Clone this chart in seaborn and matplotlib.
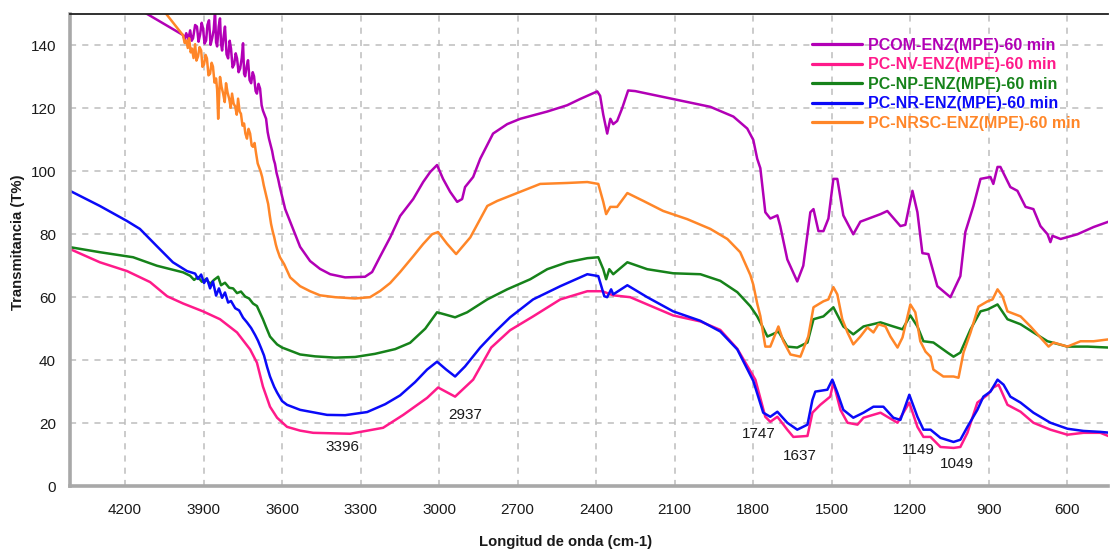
import matplotlib
matplotlib.use("Agg")
import matplotlib.pyplot as plt
from matplotlib.lines import Line2D
from matplotlib.ticker import MultipleLocator
import pandas as pd
import seaborn as sns

# ---- FTIR spectra (wavenumber in cm-1, transmittance in %) ----
series_names = [
    "PCOM-ENZ(MPE)-60 min",
    "PC-NV-ENZ(MPE)-60 min",
    "PC-NP-ENZ(MPE)-60 min",
    "PC-NR-ENZ(MPE)-60 min",
    "PC-NRSC-ENZ(MPE)-60 min",
]
series_colors = ["#B200B6", "#FF1A8A", "#16821A", "#0A0AF8", "#FF8628"]

pcom_wn = [4410, 3978, 3972, 3966, 3958, 3951, 3945, 3940, 3932, 3925, 3919, 3913, 3907,
           3902, 3896, 3890, 3885, 3879, 3873, 3867, 3861, 3856, 3852, 3848, 3842, 3837,
           3833, 3829, 3823, 3818, 3812, 3806, 3800, 3795, 3789, 3783, 3777, 3772, 3766,
           3760, 3754, 3749, 3745, 3741, 3735, 3730, 3724, 3718, 3712, 3707, 3701, 3696,
           3690, 3684, 3678, 3673, 3667, 3661, 3655, 3650, 3644, 3638, 3632, 3627, 3621,
           3615, 3609, 3604, 3588, 3569, 3531, 3493,
           3455, 3416, 3359, 3283, 3256, 3225, 3187, 3149, 3099, 3061, 3034, 3008, 2985,
           2958, 2931, 2912, 2901, 2870, 2843, 2794, 2740, 2690, 2587, 2511, 2461, 2396,
           2385, 2373, 2358, 2346, 2335, 2320, 2301, 2278, 2251, 2205, 2106, 1964, 1876,
           1823, 1800, 1785, 1773, 1754, 1735, 1708, 1697, 1670, 1632, 1609, 1582, 1570,
           1551, 1532, 1513, 1494, 1479, 1456, 1418, 1391, 1314, 1288, 1238, 1219, 1192,
           1173, 1154, 1131, 1097, 1047, 1009, 990, 959, 932, 894, 883, 867, 856, 818,
           791, 760, 730, 703, 676, 665, 657, 626, 562, 500, 443]
pcom_t = [164.4, 143.3, 141.8, 143.9, 142.0, 144.8, 141.5, 142.3, 146.5, 146.0, 141.2,
          143.5, 147.2, 145.5, 140.6, 141.6, 146.5, 148.0, 140.2, 142.3, 145.0, 151.0,
          141.0, 139.7, 146.0, 148.6, 140.5, 138.4, 143.0, 146.0, 137.2, 135.9, 141.5,
          139.0, 133.0, 134.0, 137.5, 135.9, 131.5, 132.7, 136.0, 140.7, 131.0, 130.2,
          133.5, 135.3, 129.0, 128.0, 131.5, 130.2, 125.5, 124.7, 127.8, 126.3, 121.0,
          119.3, 118.0, 116.7, 112.5, 110.4, 108.5, 106.5, 103.8, 102.4, 99.5, 97.6,
          95.2, 93.5, 88.0, 84.0, 76.0, 71.5,
          69.0, 67.3, 66.3, 66.5, 68.0, 73.0, 79.0, 85.8, 91.2, 96.6,
          99.8, 102.0, 97.6, 93.5, 90.3, 91.2, 95.0, 98.2, 104.0, 112.0, 115.0, 116.7,
          119.0, 121.0, 123.0, 125.4, 124.0, 118.0, 112.0, 116.7, 115.0, 116.0, 120.0,
          125.7, 125.5, 124.7, 123.0, 120.5, 117.4, 113.6, 110.0, 104.0, 101.0, 87.0,
          85.0, 86.0, 82.6, 72.0, 65.0, 70.0, 87.0, 88.0, 81.0, 81.0, 85.0, 97.6, 97.6,
          86.0, 80.0, 84.0, 86.4, 87.4, 82.6, 83.0, 93.8, 87.0, 74.0, 73.7, 63.5, 60.0,
          66.7, 80.7, 89.0, 97.6, 98.2, 96.0, 101.4, 101.4, 95.0, 93.8, 88.7, 88.0, 82.6,
          80.0, 77.5, 79.5, 78.5, 80.0, 82.3, 84.0]

nv_wn = [4410, 4296, 4192, 4104, 4039, 3978, 3902, 3837, 3772, 3722, 3696, 3673, 3646,
         3619, 3581, 3531, 3481, 3340, 3214, 3137, 3046, 3004, 2939, 2870, 2801, 2729,
         2641, 2537, 2434, 2377, 2335, 2270, 2205, 2106, 2002, 1926, 1861, 1792, 1754,
         1735, 1708, 1670, 1647, 1593, 1574, 1544, 1506, 1494, 1467, 1440, 1402, 1379,
         1314, 1288, 1249, 1204, 1173, 1150, 1123, 1085, 1035, 1009, 982, 944, 905, 883,
         863, 829, 779, 730, 665, 600, 539, 474, 435]
nv_t = [75.3, 71.1, 68.3, 64.8, 60.3, 58.0, 55.5, 53.0, 48.8, 43.4, 39.2, 31.6, 25.2,
        21.7, 18.8, 17.6, 16.9, 16.6, 18.5, 22.6, 28.0, 31.3, 28.4, 33.8, 44.0, 49.5,
        53.9, 59.3, 61.9, 61.9, 60.6, 60.0, 57.7, 54.2, 52.3, 49.6, 43.6, 33.8, 22.0,
        20.4, 22.0, 17.9, 15.6, 15.9, 23.3, 25.8, 28.4, 32.9, 24.2, 20.1, 19.5, 21.7,
        23.3, 22.0, 20.1, 26.5, 18.8, 15.6, 15.6, 12.4, 12.1, 12.4, 16.9, 26.5, 29.0,
        31.3, 32.2, 25.8, 23.6, 20.1, 17.9, 16.3, 16.9, 16.9, 15.6]

np_wn = [4410, 4296, 4169, 4078, 3978, 3951, 3936, 3921, 3906, 3890, 3875, 3860, 3844,
         3833, 3818, 3802, 3787, 3772, 3757, 3741, 3726, 3711, 3696, 3684, 3673, 3661,
         3646, 3630, 3619, 3600, 3581, 3531, 3474, 3397, 3321, 3245, 3168, 3111, 3053,
         3008, 2977, 2939, 2893, 2816, 2740, 2652, 2587, 2511, 2434, 2392, 2373, 2362,
         2350, 2335, 2281, 2205, 2106, 2002, 1926, 1861, 1811, 1785, 1765, 1746, 1727,
         1704, 1670, 1632, 1593, 1570, 1532, 1494, 1456, 1418, 1379, 1314, 1265, 1230,
         1200, 1173, 1150, 1112, 1058, 1035, 1009, 970, 932, 905, 867, 829, 779, 730,
         676, 600, 523, 443]
np_t = [75.9, 74.3, 72.7, 70.0, 67.9, 66.8, 65.5, 66.4, 64.9, 65.8, 64.2, 65.5, 66.5,
        63.8, 64.6, 63.0, 62.8, 61.3, 61.8, 60.2, 59.6, 58.0, 57.2, 55.0, 53.0, 50.5,
        47.5, 46.0, 45.0, 44.0, 43.4, 41.8, 41.2, 40.8, 41.0, 42.0, 43.5, 45.5, 50.0,
        55.2, 54.5, 53.6, 55.2, 59.3, 62.5, 65.7, 68.9, 71.1, 72.4, 72.7, 68.9, 65.7,
        68.9, 67.3, 71.1, 68.9, 67.6, 67.3, 65.2, 61.6, 57.1, 53.9, 50.7, 47.5, 48.2,
        49.1, 44.3, 44.0, 45.6, 53.0, 53.9, 56.8, 50.7, 48.2, 50.7, 52.0, 50.7, 49.8,
        54.2, 50.7, 46.0, 45.6, 42.4, 41.1, 42.4, 49.8, 55.5, 56.1, 57.7, 53.0, 51.4,
        48.8, 46.0, 44.3, 44.3, 44.0]

nr_wn = [4410, 4296, 4192, 4143, 4078, 4017, 3963, 3932, 3921, 3909, 3898, 3887, 3875,
         3864, 3852, 3841, 3829, 3818, 3806, 3795, 3779, 3764, 3749, 3734, 3718, 3703,
         3692, 3680, 3669, 3657, 3646, 3630, 3619, 3600, 3581, 3531, 3428, 3359, 3275,
         3206, 3149, 3092, 3046, 3008, 2973, 2939, 2901, 2843, 2786, 2729, 2641, 2537,
         2434, 2392, 2369, 2358, 2343, 2335, 2281, 2205, 2106, 2002, 1926, 1861, 1800,
         1762, 1735, 1708, 1670, 1632, 1593, 1574, 1563, 1517, 1498, 1479, 1456, 1418,
         1379, 1341, 1303, 1265, 1238, 1204, 1173, 1150, 1123, 1085, 1035, 1009, 982,
         944, 921, 894, 867, 844, 818, 779, 730, 665, 600, 539, 474, 435]
nr_t = [93.8, 89.0, 84.2, 81.7, 76.2, 71.1, 68.3, 67.5, 65.8, 67.2, 64.5, 66.0, 62.8,
        65.0, 60.5, 62.8, 59.8, 61.5, 58.3, 58.8, 56.5, 55.8, 53.5, 52.0, 50.2, 48.0,
        46.2, 43.8, 41.5, 37.8, 34.8, 31.5, 29.7, 27.0, 25.8, 24.2, 22.6, 22.5, 23.5,
        26.0, 28.8, 33.0, 37.0, 39.5, 37.0, 34.8, 38.0, 44.0, 49.0, 53.6, 59.3, 63.5,
        67.3, 66.7, 60.3, 60.0, 62.5, 60.9, 63.8, 60.0, 55.5, 52.5, 49.1, 43.4, 33.4,
        23.3, 22.0, 23.6, 20.1, 17.9, 19.5, 27.4, 30.0, 30.6, 33.8, 29.7, 24.2, 21.7,
        23.3, 25.2, 25.2, 21.7, 21.0, 29.0, 22.0, 17.9, 17.9, 15.3, 14.0, 14.7, 18.8,
        24.2, 28.4, 30.0, 33.8, 32.2, 28.4, 26.5, 23.3, 20.1, 18.2, 17.5, 17.2, 16.9]

nrsc_wn = [4410, 4047, 3978, 3972, 3966, 3960, 3955, 3949, 3944, 3938, 3932, 3927, 3921,
           3915, 3909, 3904, 3898, 3892, 3887, 3881, 3875, 3869, 3864, 3858, 3852, 3848,
           3844, 3840, 3837, 3831, 3825, 3819, 3814, 3808, 3802, 3796, 3791, 3785, 3779,
           3773, 3768, 3762, 3757, 3751, 3745, 3740, 3734, 3728, 3722, 3716, 3711, 3705,
           3699, 3693, 3688, 3682, 3676, 3670, 3665, 3659, 3653, 3647, 3642, 3636, 3630,
           3624, 3619, 3608, 3592, 3569, 3531,
           3493, 3455, 3397, 3321, 3264, 3225, 3187, 3149, 3099, 3061, 3027, 3004, 2970,
           2935, 2881, 2816, 2778, 2690, 2614, 2511, 2434, 2392, 2373, 2362, 2346, 2320,
           2281, 2220, 2144, 2052, 1964, 1899, 1850, 1811, 1800, 1785, 1773, 1754, 1735,
           1704, 1685, 1658, 1620, 1590, 1570, 1532, 1513, 1494, 1479, 1460, 1440, 1418,
           1391, 1364, 1341, 1322, 1295, 1276, 1249, 1230, 1200, 1181, 1162, 1142, 1123,
           1112, 1074, 1035, 1016, 997, 970, 940, 905, 886, 867, 848, 829, 779, 741, 703,
           672, 653, 600, 550, 500, 443]
nrsc_t = [185.0, 150.5, 143.2, 140.8, 141.6, 139.2, 142.3, 137.8, 139.0, 136.0, 140.4,
          135.2, 136.5, 139.5, 138.4, 133.2, 134.0, 137.0, 135.9, 130.5, 131.0, 134.5,
          133.3, 128.2, 129.5, 126.0, 116.7, 124.5, 130.0, 126.8, 124.7, 122.0, 128.0,
          125.0, 123.1, 120.2, 124.7, 121.5, 120.6, 118.0, 123.1, 119.0, 118.3, 114.5,
          115.2, 112.0, 110.4, 113.5, 112.0, 108.2, 107.8, 109.0, 105.6, 102.5, 101.4,
          100.0, 98.2, 95.6, 93.8, 91.5, 89.6, 86.0, 83.3, 81.0, 79.1, 76.8, 75.3, 72.7,
          70.5, 66.3, 63.5,
          61.9, 60.6, 60.0, 59.6, 60.0, 62.0, 64.5, 68.0,
          73.0, 76.9, 80.0, 80.7, 77.0, 73.7, 79.0, 89.0, 90.6, 93.5, 96.0, 96.3, 96.6,
          96.0, 90.3, 86.4, 88.7, 88.7, 93.1, 90.6, 87.4, 84.8, 81.7, 78.5, 74.3, 67.0,
          64.0, 58.0, 54.0, 44.3, 44.3, 50.7, 46.0, 41.8, 41.1, 47.5, 56.8, 58.7, 59.3,
          63.2, 60.9, 53.0, 48.8, 45.0, 47.5, 50.4, 48.8, 51.4, 50.7, 47.5, 44.0, 47.2,
          57.7, 55.2, 46.0, 42.7, 41.1, 37.0, 34.8, 34.8, 34.4, 42.4, 48.8, 57.0, 58.7,
          59.3, 62.5, 60.3, 55.5, 53.9, 50.7, 47.2, 44.3, 45.6, 44.3, 46.0, 46.0, 46.6]

peak_labels = [3396, 2937, 1747, 1637, 1149, 1049]

# ---- long-form table for seaborn ----
spectra = [(pcom_wn, pcom_t), (nv_wn, nv_t), (np_wn, np_t), (nr_wn, nr_t), (nrsc_wn, nrsc_t)]
df = pd.concat(
    [pd.DataFrame({"wn": wn, "T": t, "muestra": name})
     for name, (wn, t) in zip(series_names, spectra)],
    ignore_index=True,
)

sns.set_style("white")
plt.rcParams["font.family"] = ["Liberation Sans", "DejaVu Sans"]

fig = plt.figure(figsize=(11.10, 5.53), dpi=100)
ax = fig.add_axes([70 / 1110, 1 - 486 / 553, 1038 / 1110, 472 / 553])

sns.lineplot(
    data=df, x="wn", y="T", hue="muestra", hue_order=series_names,
    palette=dict(zip(series_names, series_colors)),
    estimator=None, sort=False, linewidth=1.8, legend=False, ax=ax,
)

ax.set_xlim(4410, 445)
ax.set_ylim(0, 150)
ax.xaxis.set_major_locator(MultipleLocator(300))
ax.xaxis.set_minor_locator(MultipleLocator(75))
ax.yaxis.set_major_locator(MultipleLocator(20))
ax.yaxis.set_minor_locator(MultipleLocator(5))

ax.grid(True, which="major", color="#BDBDBD", linestyle=(0, (4, 4)), linewidth=1.1)
ax.set_axisbelow(True)

for side in ("left", "bottom"):
    ax.spines[side].set_color("#A8A8A8")
    ax.spines[side].set_linewidth(2.6)
ax.spines["top"].set_color("#202020")
ax.spines["top"].set_linewidth(1.3)
ax.spines["right"].set_visible(False)

ax.tick_params(axis="both", which="major", length=6, width=1.2, color="#8A8A8A",
               labelsize=11, labelcolor="#1A1A1A", direction="out", pad=6)
ax.tick_params(axis="both", which="minor", length=3, width=1.0, color="#8A8A8A",
               direction="out")
ax.tick_params(axis="y", which="major", pad=4)

ax.set_xlabel("Longitud de onda (cm-1)", fontsize=10.7, fontweight="bold", color="#1A1A1A")
ax.set_ylabel("Transmitancia (T%)", fontsize=10.7, fontweight="bold", color="#1A1A1A")
ax.xaxis.set_label_coords(0.477, -0.104)
ax.yaxis.set_label_coords(-0.043, 0.517)

# peak annotations: (label y in %, horizontal shift in pixels)
label_layout = [(12.4, 7), (22.6, 10), (16.6, -8), (9.6, 4), (11.5, -5), (7.0, 7)]
for peak, (ty, dx) in zip(peak_labels, label_layout):
    ax.annotate(str(peak), xy=(peak, ty), xytext=(dx, 0), textcoords="offset pixels",
                ha="center", va="center", fontsize=11, color="#1A1A1A")

handles = [Line2D([], [], color=c, lw=2.3) for c in series_colors]
ax.legend(
    handles, series_names, loc="upper left",
    bbox_to_anchor=((812 - 70) / 1038, 1 - (38 - 14) / 472),
    frameon=False, labelcolor="linecolor", handlelength=3.1, handletextpad=0.4,
    labelspacing=0.28, borderpad=0, borderaxespad=0,
    prop={"weight": "bold", "size": 11.5},
)

fig.savefig("out.png", dpi=100)
